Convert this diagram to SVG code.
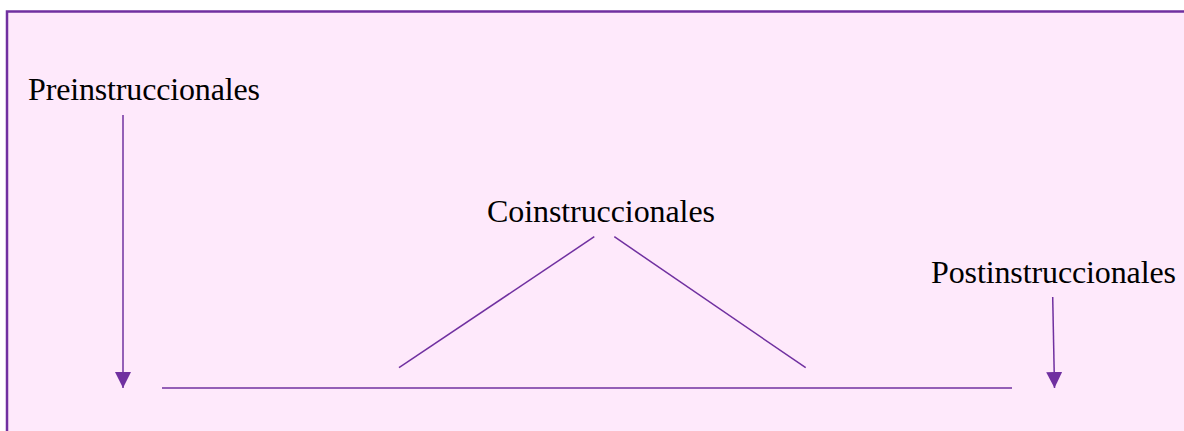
<svg xmlns="http://www.w3.org/2000/svg" width="1184" height="431" viewBox="0 0 1184 431">
<style>
.lbl{font-family:"Liberation Serif","Times New Roman",serif;font-size:32px;fill:#000}
.ln{stroke:#7030a0;stroke-width:1.5;fill:none}
</style>
<defs>
<marker id="ah" markerUnits="userSpaceOnUse" markerWidth="16" markerHeight="16" refX="16" refY="8" orient="auto" viewBox="0 0 16 16">
<path d="M0,0 L16,8 L0,16 Z" fill="#7030a0"/>
</marker>
</defs>
<rect x="0" y="0" width="1184" height="431" fill="#ffffff"/>
<rect x="7" y="11.5" width="1200" height="440" fill="#fee9fb" stroke="#7030a0" stroke-width="2.5"/>
<g id="node-pre"><text class="lbl" x="28" y="100" textLength="232" lengthAdjust="spacing">Preinstruccionales</text></g>
<g id="node-co"><text class="lbl" x="487" y="222" textLength="228" lengthAdjust="spacing">Coinstruccionales</text></g>
<g id="node-post"><text class="lbl" x="931" y="283" textLength="245" lengthAdjust="spacing">Postinstruccionales</text></g>
<g id="node-axis"><line class="ln" x1="162" y1="388" x2="1012" y2="388"/></g>
<g id="connectors">
<line class="ln" x1="123" y1="115" x2="123" y2="388" marker-end="url(#ah)"/>
<line class="ln" x1="1052.7" y1="297" x2="1054.5" y2="388" marker-end="url(#ah)"/>
<line class="ln" x1="594.3" y1="236.7" x2="399" y2="367.7"/>
<line class="ln" x1="614.3" y1="236.7" x2="805.7" y2="367.7"/>
</g>
</svg>
